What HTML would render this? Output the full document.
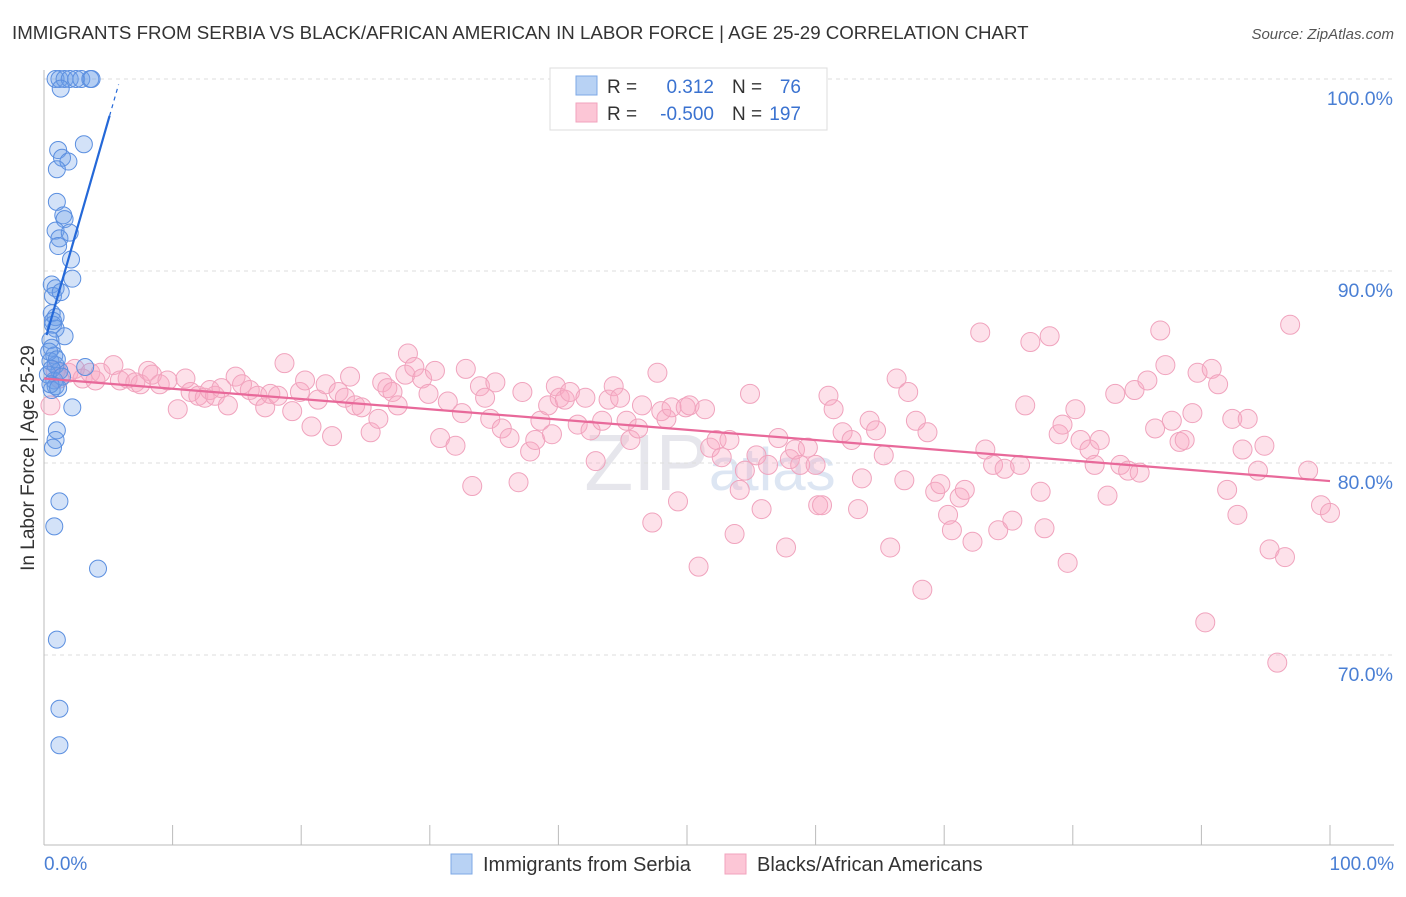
<!DOCTYPE html>
<html><head><meta charset="utf-8"><style>
body{margin:0;background:#fff;font-family:"Liberation Sans",sans-serif}
svg text{font-family:"Liberation Sans",sans-serif}
</style></head><body>
<svg id="chart" width="1406" height="892" xmlns="http://www.w3.org/2000/svg">
<text x="12" y="39" font-size="18.7" fill="#333">IMMIGRANTS FROM SERBIA VS BLACK/AFRICAN AMERICAN IN LABOR FORCE | AGE 25-29 CORRELATION CHART</text>
<text x="1394" y="39" font-size="15" fill="#555" text-anchor="end" font-style="italic">Source: ZipAtlas.com</text>
<text x="710" y="490" font-size="80" fill="#e6e6ec" text-anchor="middle" font-family="Liberation Serif">ZIP<tspan font-family="Liberation Sans" font-size="60" fill="#dde6f3">atlas</tspan></text>
<g id="grid"></g>
<g id="axes"></g>
<g id="pink"></g>
<g id="blue"></g>
<g id="lines"></g>
<text transform="translate(34,458) rotate(-90)" font-size="19" fill="#333" text-anchor="middle">In Labor Force | Age 25-29</text>
<text x="44" y="870" font-size="19" fill="#4a7fd4">0.0%</text>
<text x="1394" y="870" font-size="19" fill="#4a7fd4" text-anchor="end">100.0%</text>
<g>
<rect x="550" y="68" width="277" height="62" fill="#fff" stroke="#ddd"/>
<rect x="576" y="76" width="21" height="19" fill="#b8d2f4" stroke="#7ea8e6"/>
<rect x="576" y="103" width="21" height="19" fill="#fcc6d6" stroke="#f2a3bd"/>
<text x="607" y="93" font-size="19" fill="#333">R =</text>
<text x="714" y="93" font-size="19" fill="#3a72d0" text-anchor="end">0.312</text>
<text x="732" y="93" font-size="19" fill="#333">N =</text>
<text x="801" y="93" font-size="19" fill="#3a72d0" text-anchor="end">76</text>
<text x="607" y="120" font-size="19" fill="#333">R =</text>
<text x="714" y="120" font-size="19" fill="#3a72d0" text-anchor="end">-0.500</text>
<text x="732" y="120" font-size="19" fill="#333">N =</text>
<text x="801" y="120" font-size="19" fill="#3a72d0" text-anchor="end">197</text>
</g>
<g>
<rect x="451" y="854" width="21" height="20" fill="#b8d2f4" stroke="#7ea8e6"/>
<text x="483" y="871" font-size="20" fill="#333">Immigrants from Serbia</text>
<rect x="725" y="854" width="21" height="20" fill="#fcc6d6" stroke="#f2a3bd"/>
<text x="757" y="871" font-size="20" fill="#333">Blacks/African Americans</text>
</g>
</svg>
<script>
const yTicks=[100,90,80,70];
const yTickLabels=["100.0%","90.0%","80.0%","70.0%"];
const xTicks=[0,10,20,30,40,50,60,70,80,90,100];
const blueX=[0.9,1.2,1.6,2.0,2.5,2.9,3.6,3.7,1.3,3.1,1.1,1.4,1.9,1.0,1.0,1.5,1.6,0.9,1.2,2.0,1.1,2.1,2.2,0.6,0.9,0.7,0.6,0.9,0.7,0.9,1.6,0.5,0.6,0.8,0.5,0.9,1.2,0.3,0.8,0.6,0.9,3.2,2.2,1.0,0.9,0.7,1.2,0.8,4.2,1.0,1.2,1.2,0.4,1.0,0.6,1.4,0.5,1.1,0.7,1.3];
const blueY=[100,100,100,100,100,100,100,100,99.5,96.6,96.3,95.9,95.7,95.3,93.6,92.9,92.7,92.1,91.7,92.0,91.3,90.6,89.6,89.3,89.1,88.7,87.8,87.6,87.2,87.0,86.6,86.4,86.0,85.6,85.3,85.1,84.8,84.6,84.3,83.8,84.0,85.0,82.9,81.7,81.2,80.8,78.0,76.7,74.5,70.8,67.2,65.3,85.8,85.4,84.9,84.5,84.1,83.9,87.4,88.9];
const pinkX=[0.5,0.9,1.2,1.9,2.4,3.0,3.6,4.0,4.4,5.4,5.9,6.5,7.1,7.5,8.1,8.4,9.0,9.6,10.4,11.0,11.4,12.0,12.5,12.9,13.3,13.8,14.3,14.9,15.4,16.0,16.6,17.2,17.6,18.2,18.7,19.3,19.9,20.3,20.8,21.3,21.9,22.4,22.9,23.4,23.8,24.2,24.7,25.4,26.0,26.3,26.7,27.1,27.5,28.1,28.3,28.8,29.4,29.9,30.4,30.8,31.4,32.0,32.5,32.8,33.3,33.9,34.3,34.7,35.1,35.6,36.2,36.9,37.2,37.8,38.2,38.6,39.2,39.5,39.8,40.1,40.5,40.9,41.5,42.1,42.5,42.9,43.4,43.9,44.3,44.8,45.3,45.6,46.2,46.5,47.3,47.7,48.0,48.4,48.8,49.3,49.9,50.2,50.9,51.4,51.8,52.3,52.7,53.3,53.7,54.1,54.5,54.9,55.4,55.8,56.3,57.1,57.7,58.0,58.4,58.8,59.4,60.0,60.2,60.5,61.0,61.4,62.1,62.8,63.3,63.6,64.2,64.7,65.3,65.8,66.3,66.9,67.2,67.8,68.3,68.7,69.3,69.7,70.3,70.6,71.2,71.6,72.2,72.8,73.2,73.8,74.2,74.7,75.3,75.9,76.3,76.7,77.5,77.8,78.2,78.9,79.2,79.6,80.2,80.6,81.3,81.7,82.1,82.7,83.3,83.7,84.3,84.8,85.2,85.8,86.4,86.8,87.2,87.7,88.3,88.7,89.3,89.7,90.3,90.8,91.3,92.0,92.4,92.8,93.2,93.6,94.4,94.9,95.3,95.9,96.5,96.9,98.3,99.3,100.0];
const pinkY=[83.0,84.8,84.4,84.7,84.9,84.4,84.7,84.3,84.7,85.1,84.3,84.4,84.2,84.1,84.8,84.6,84.1,84.3,82.8,84.4,83.7,83.5,83.4,83.8,83.5,83.9,83.0,84.5,84.1,83.8,83.5,82.9,83.6,83.5,85.2,82.7,83.7,84.3,81.9,83.3,84.1,81.4,83.7,83.4,84.5,83.0,82.9,81.6,82.3,84.2,83.9,83.7,83.0,84.6,85.7,85.0,84.4,83.6,84.8,81.3,83.2,80.9,82.6,84.9,78.8,84.0,83.4,82.3,84.2,81.8,81.3,79.0,83.7,80.6,81.2,82.2,83.0,81.5,84.0,83.4,83.3,83.7,82.0,83.4,81.7,80.1,82.2,83.3,84.0,83.4,82.2,81.2,81.8,83.0,76.9,84.7,82.7,82.3,82.9,78.0,82.9,83.0,74.6,82.8,80.8,81.2,80.3,81.2,76.3,78.6,79.6,83.6,80.4,77.6,79.9,81.3,75.6,80.2,80.7,79.9,80.8,79.9,77.8,77.8,83.5,82.8,81.6,81.2,77.6,79.2,82.2,81.7,80.4,75.6,84.4,79.1,83.7,82.2,73.4,81.6,78.5,78.9,77.3,76.5,78.2,78.6,75.9,86.8,80.7,79.9,76.5,79.7,77.0,79.9,83.0,86.3,78.5,76.6,86.6,81.5,82.0,74.8,82.8,81.2,80.7,79.9,81.2,78.3,83.6,79.9,79.6,83.8,79.5,84.3,81.8,86.9,85.1,82.2,81.1,81.2,82.6,84.7,71.7,84.9,84.1,78.6,82.3,77.3,80.7,82.3,79.6,80.9,75.5,69.6,75.1,87.2,79.6,77.8,77.4];
const blueTrend=[86.2,2.33];   // intercept, slope
const pinkTrend=[84.4,-0.0534];

const NS="http://www.w3.org/2000/svg";
const X0=44,X1=1330,Y100=79,PX=19.2;
const sx=v=>X0+v*(X1-X0)/100;
const sy=v=>Y100+(100-v)*PX;
function mk(tag,attrs,parent){const e=document.createElementNS(NS,tag);for(const k in attrs)e.setAttribute(k,attrs[k]);parent.appendChild(e);return e;}
const grid=document.getElementById('grid'),axes=document.getElementById('axes');
yTicks.forEach((t,i)=>{
  const l=mk('line',{x1:44,x2:1394,y1:sy(t),y2:sy(t),stroke:'#ddd','stroke-dasharray':'4,4'},grid);
  
  
  const tx=mk('text',{x:1393,y:sy(t)+26,'font-size':19.5,fill:'#4a7fd4','text-anchor':'end'},grid);
  tx.textContent=yTickLabels[i];
  
  
});
const ax=mk('line',{x1:44,x2:1394,y1:845,y2:845,stroke:'#bbb'},axes);


const ay=mk('line',{x1:44,x2:44,y1:70,y2:845,stroke:'#bbb'},axes);


xTicks.forEach(t=>{
  const l=mk('line',{x1:sx(t),x2:sx(t),y1:825,y2:845,stroke:'#bbb'},axes);
  
  
});
const pg=document.getElementById('pink');
pinkX.forEach((x,i)=>{
  const c=mk('circle',{cx:sx(x),cy:sy(pinkY[i]),r:9.5,fill:'rgba(248,170,195,0.35)',stroke:'#f0a3bd','stroke-width':1},pg);
  
  
});
const bg=document.getElementById('blue');
blueX.forEach((x,i)=>{
  const c=mk('circle',{cx:sx(x),cy:sy(blueY[i]),r:8.5,fill:'rgba(110,160,232,0.3)',stroke:'#5b8fe0','stroke-width':1},bg);
  
  
});
const lg=document.getElementById('lines');
const bf=x=>blueTrend[0]+blueTrend[1]*x, pf=x=>pinkTrend[0]+pinkTrend[1]*x;
const bl=mk('line',{x1:sx(0.2),y1:sy(bf(0.2)),x2:sx(5.1),y2:sy(bf(5.1)),stroke:'#2468d8','stroke-width':2.2},lg);


const bd=mk('line',{x1:sx(5.1),y1:sy(bf(5.1)),x2:sx(5.8),y2:sy(bf(5.8)),stroke:'#2468d8','stroke-width':1.2,'stroke-dasharray':'4,4'},lg);


const pl=mk('line',{x1:sx(0),y1:sy(pf(0)),x2:sx(100),y2:sy(pf(100)),stroke:'#e8699a','stroke-width':2.2},lg);


</script>
</body></html>
